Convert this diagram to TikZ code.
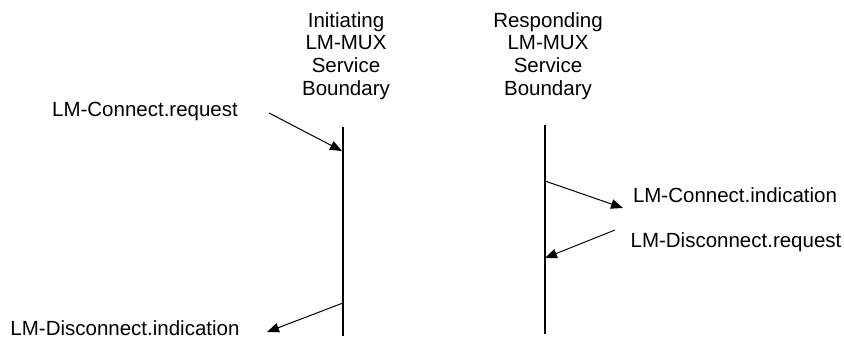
\documentclass[tikz,border=0pt]{standalone}
\usepackage{fontspec}
\setmainfont{Liberation Sans}
\usetikzlibrary{arrows.meta}
\tikzset{
  lbl/.style={inner sep=0pt, anchor=base, font=\fontsize{20.5}{23.2}\selectfont},
  hdr/.style={inner sep=0pt, anchor=north, align=center, font=\fontsize{20.5}{22.8}\selectfont},
  life/.style={line width=2.2pt},
  msg/.style={line width=1pt, -{Triangle[length=12pt,width=9.5pt]}}
}
\begin{document}
\begin{tikzpicture}[x=1pt,y=-1pt]
\useasboundingbox (0,0) rectangle (844,339);
% headers
\node[hdr] (h1) at (346,12) {Initiating\\LM-MUX\\Service\\Boundary};
\node[hdr] (h2) at (548,12) {Responding\\LM-MUX\\Service\\Boundary};
% lifelines
\coordinate (l1t) at (343,127);
\coordinate (l1b) at (343,336);
\coordinate (l2t) at (545,125);
\coordinate (l2b) at (545,334);
\draw[life] (l1t) -- (l1b);
\draw[life] (l2t) -- (l2b);
% labels
\node[lbl] (m1) at (145,117) {LM-Connect.request};
\node[lbl] (m2) at (735,203) {LM-Connect.indication};
\node[lbl] (m3) at (736,248) {LM-Disconnect.request};
\node[lbl] (m4) at (125,335.5) {LM-Disconnect.indication};
% message endpoints
\coordinate (a1s) at (269,113);
\coordinate (a1e) at (342,151);
\coordinate (a2s) at (545,181);
\coordinate (a2e) at (623,208);
\coordinate (a3s) at (615,230);
\coordinate (a3e) at (545,258);
\coordinate (a4s) at (343,303);
\coordinate (a4e) at (267,332);
\draw[msg] (a1s) -- (a1e);
\draw[msg] (a2s) -- (a2e);
\draw[msg] (a3s) -- (a3e);
\draw[msg] (a4s) -- (a4e);
\end{tikzpicture}
\end{document}
